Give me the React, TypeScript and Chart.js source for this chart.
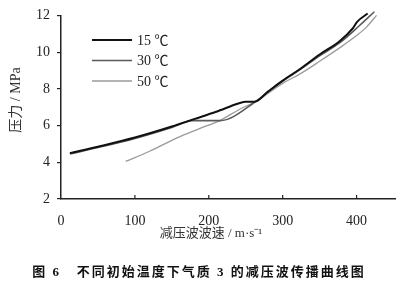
import React, { useEffect, useRef } from "react";
import { Chart, registerables } from "chart.js";

Chart.register(...registerables);

// Series: decompression wave speed (m/s) vs pressure (MPa)
const SPEED_15 = [12, 50, 100, 150, 180, 210, 240, 250, 262, 280, 300, 323, 350, 377, 395, 401, 415];
const PRESS_15 = [4.5, 4.85, 5.35, 5.95, 6.35, 6.75, 7.2, 7.3, 7.3, 7.85, 8.45, 9.07, 9.87, 10.59, 11.3, 11.66, 12.1];

const SPEED_30 = [12, 50, 100, 150, 178, 215, 265, 280, 300, 323, 350, 377, 404, 424];
const PRESS_30 = [4.45, 4.8, 5.3, 5.9, 6.27, 6.27, 7.35, 7.82, 8.42, 9.03, 9.8, 10.5, 11.45, 12.2];

const SPEED_50 = [87.5, 120, 161, 195, 215, 240, 265, 300, 323, 350, 377, 400, 413, 427];
const PRESS_50 = [4.05, 4.6, 5.4, 5.95, 6.27, 6.85, 7.35, 8.3, 8.8, 9.5, 10.23, 10.9, 11.35, 12.0];

const LABELS = ["15 ℃", "30 ℃", "50 ℃"];
const COLORS = ["#111111", "#5a5a5a", "#9a9a9a"];
const WIDTHS = [2, 1.6, 1.3];

const X_TICKS = [0, 100, 200, 300, 400];
const Y_TICKS = [2, 4, 6, 8, 10, 12];

const X_TITLE = "减压波波速 / m·s⁻¹";
const Y_TITLE = "压力 / MPa";
const CAPTION = "图 6   不同初始温度下气质 3 的减压波传播曲线图";

const SERIF = "'Liberation Serif', 'Noto Sans CJK SC', serif";

function toPoints(xs: number[], ys: number[]) {
  return xs.map((x, i) => ({ x, y: ys[i] }));
}

const extrasPlugin = {
  id: "extras",
  afterDraw(chart: any) {
    const ctx = chart.ctx;
    const xs = chart.scales.x;
    const area = chart.chartArea;
    ctx.save();
    // inward x tick marks
    ctx.strokeStyle = "#222";
    ctx.lineWidth = 1.2;
    X_TICKS.forEach((v) => {
      if (v === 0) return;
      const px = xs.getPixelForValue(v);
      ctx.beginPath();
      ctx.moveTo(px, area.bottom);
      ctx.lineTo(px, area.bottom - 4);
      ctx.stroke();
    });
    // legend
    const lx0 = 92;
    const lx1 = 132;
    const rows = [40, 60.5, 81];
    ctx.font = `14px ${SERIF}`;
    ctx.textBaseline = "middle";
    ctx.textAlign = "left";
    chart.data.datasets.forEach((ds: any, i: number) => {
      ctx.strokeStyle = ds.borderColor;
      ctx.lineWidth = ds.borderWidth;
      ctx.beginPath();
      ctx.moveTo(lx0, rows[i]);
      ctx.lineTo(lx1, rows[i]);
      ctx.stroke();
      ctx.fillStyle = "#222";
      ctx.fillText(ds.label, 137, rows[i] + 1);
    });
    // axis titles
    ctx.fillStyle = "#333";
    ctx.textAlign = "center";
    ctx.textBaseline = "middle";
    ctx.font = `13px ${SERIF}`;
    ctx.fillText(X_TITLE, 211, 234);
    ctx.save();
    ctx.translate(16, 100);
    ctx.rotate(-Math.PI / 2);
    ctx.font = `14px ${SERIF}`;
    ctx.fillText(Y_TITLE, 0, 0);
    ctx.restore();
    // caption
    ctx.font = `bold 13px ${SERIF}`;
    ctx.fillStyle = "#111";
    ctx.textAlign = "center";
    try {
      (ctx as any).letterSpacing = "2px";
    } catch (e) {}
    ctx.fillText(CAPTION, 199, 273);
    ctx.restore();
  },
};

export default function App() {
  const ref = useRef<HTMLCanvasElement | null>(null);

  useEffect(() => {
    if (!ref.current) return;
    const chart = new Chart(ref.current, {
      type: "line",
      data: {
        datasets: [
          { label: LABELS[0], data: toPoints(SPEED_15, PRESS_15) },
          { label: LABELS[1], data: toPoints(SPEED_30, PRESS_30) },
          { label: LABELS[2], data: toPoints(SPEED_50, PRESS_50) },
        ].map((d, i) => ({
          ...d,
          borderColor: COLORS[i],
          backgroundColor: COLORS[i],
          borderWidth: WIDTHS[i],
          pointRadius: 0,
          cubicInterpolationMode: "monotone" as const,
          fill: false,
          clip: false as any,
        })),
      },
      options: {
        animation: false,
        responsive: false,
        layout: { padding: { top: 12, right: 5, left: 0, bottom: 39 } },
        plugins: {
          legend: { display: false },
          tooltip: { enabled: false },
        },
        scales: {
          x: {
            type: "linear",
            min: 0,
            max: 452,
            afterBuildTicks: (axis: any) => {
              axis.ticks = X_TICKS.map((v) => ({ value: v }));
            },
            afterFit: (s: any) => {
              s.height = 45;
            },
            grid: { display: false },
            border: { display: true, color: "#222", width: 1.5 },
            ticks: {
              padding: 6,
              color: "#222",
              font: { family: SERIF, size: 14 },
              maxRotation: 0,
            },
          },
          y: {
            type: "linear",
            min: 2,
            max: 12,
            afterBuildTicks: (axis: any) => {
              axis.ticks = Y_TICKS.map((v) => ({ value: v }));
            },
            afterFit: (s: any) => {
              s.width = 61;
            },
            grid: {
              display: true,
              drawOnChartArea: false,
              drawTicks: true,
              tickLength: 4,
              color: "#222",
              lineWidth: 1.2,
            },
            border: { display: true, color: "#222", width: 1.5 },
            ticks: {
              padding: 7,
              color: "#222",
              font: { family: SERIF, size: 14 },
            },
          },
        },
      },
      plugins: [extrasPlugin],
    });
    return () => chart.destroy();
  }, []);

  return (
    <div style={{ position: "fixed", left: 0, top: 0, width: 400, height: 283, background: "#fff" }}>
      <canvas ref={ref} width={400} height={283} style={{ width: 400, height: 283, display: "block" }} />
    </div>
  );
}
